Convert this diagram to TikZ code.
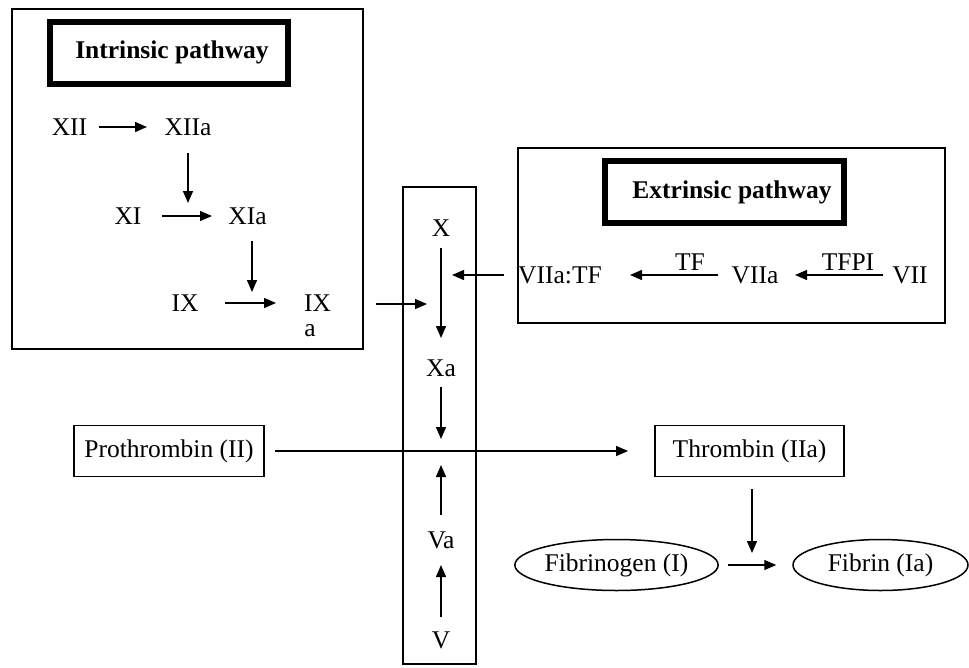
\documentclass[tikz,border=0pt]{standalone}
\usepackage{fontspec}
\setmainfont{Liberation Serif}
\usetikzlibrary{arrows.meta,shapes.geometric}
\begin{document}
\begin{tikzpicture}[x=1pt,y=-1pt,
  every node/.style={inner sep=0pt,font=\fontsize{25.5}{30}\selectfont},
  ttl/.style={font=\fontsize{25.5}{30}\selectfont\bfseries},
  arr/.style={line width=1.4pt,-{Triangle[length=12pt,width=10pt]}},
  thinbox/.style={line width=1.8pt},
  thickbox/.style={line width=6pt},
  rbox/.style={draw,line width=1.8pt,minimum height=51pt},
  ebox/.style={draw,ellipse,line width=1.5pt,minimum height=51pt}]
\useasboundingbox (0,0) rectangle (969,667);
% containers
\draw[thinbox] (12,9) rectangle (363,349);
\draw[thickbox] (50,22) rectangle (288,84);
\draw[thinbox] (518,148) rectangle (945,323);
\draw[thickbox] (605,161) rectangle (844,223);
\draw[thinbox] (403,187) rectangle (476,664);
\node[ttl] (intr) at (172,52) {Intrinsic pathway};
\node[ttl] (extr) at (732,192) {Extrinsic pathway};
% intrinsic
\node (xii) at (69.5,127) {XII};
\node (xiia) at (188,127) {XIIa};
\node (xi) at (128,216) {XI};
\node (xia) at (247.5,216) {XIa};
\node (ix) at (185,303) {IX};
\node (ixa) at (317.5,303) {IX};
\node (ixab) at (310,331) {a};
\coordinate (c1) at (188,203);
\coordinate (c2) at (252,292);
\draw[arr] ([xshift=29.5pt]xii.center) -- ([xshift=-41pt]xiia.center);
\draw[arr] ([yshift=-26pt]xiia.center) -- (c1);
\draw[arr] ([xshift=34pt]xi.center) -- ([xshift=-35.5pt]xia.center);
\draw[arr] ([xshift=4.5pt,yshift=-25pt]xia.center) -- (c2);
\draw[arr] ([xshift=40pt]ix.center) -- ([xshift=-41.5pt]ixa.center);
% central column
\node (x) at (441,228) {X};
\node (xa) at (441,368) {Xa};
\node (va) at (441,540) {Va};
\node (v) at (441,640) {V};
\coordinate (c3) at (441,439);
\coordinate (c4) at (441,465);
\coordinate (c5) at (427,304);
\coordinate (c6) at (452,275);
\draw[arr] ([yshift=-20pt]x.center) -- ([yshift=30pt]xa.center);
\draw[arr] ([yshift=-19pt]xa.center) -- (c3);
\draw[arr] ([yshift=25pt]va.center) -- (c4);
\draw[arr] ([yshift=23pt]v.center) -- ([yshift=-25pt]va.center);
\draw[arr] ([xshift=58.5pt,yshift=-1pt]ixa.center) -- (c5);
% extrinsic
\node (viiatf) at (560,275) {VIIa:TF};
\node (viia) at (755,275) {VIIa};
\node (vii) at (910,275) {VII};
\node (tf) at (690,262) {TF};
\node (tfpi) at (848,262) {TFPI};
\draw[arr] ([xshift=-56pt]viiatf.center) -- (c6);
\draw[arr] ([xshift=-37pt]viia.center) -- ([xshift=70pt]viiatf.center);
\draw[arr] ([xshift=-27pt]vii.center) -- ([xshift=40pt]viia.center);
% common pathway
\node[rbox,minimum width=190pt] (pro) at (169,451) {Prothrombin (II)};
\node[rbox,minimum width=189pt] (thr) at (749.5,451) {Thrombin (IIa)};
\draw[arr] ([xshift=10pt]pro.east) -- ([xshift=-26pt]thr.west);
\node[ebox,minimum width=201pt] (fbg) at (616.5,565) {Fibrinogen (I)};
\node[ebox,minimum width=175pt] (fbn) at (880.5,565) {Fibrin (Ia)};
\coordinate (c7) at (752,553);
\draw[arr] ([xshift=2.5pt,yshift=-12pt]thr.south) -- (c7);
\draw[arr] ([xshift=9pt]fbg.east) -- ([xshift=-16pt]fbn.west);
\end{tikzpicture}
\end{document}
